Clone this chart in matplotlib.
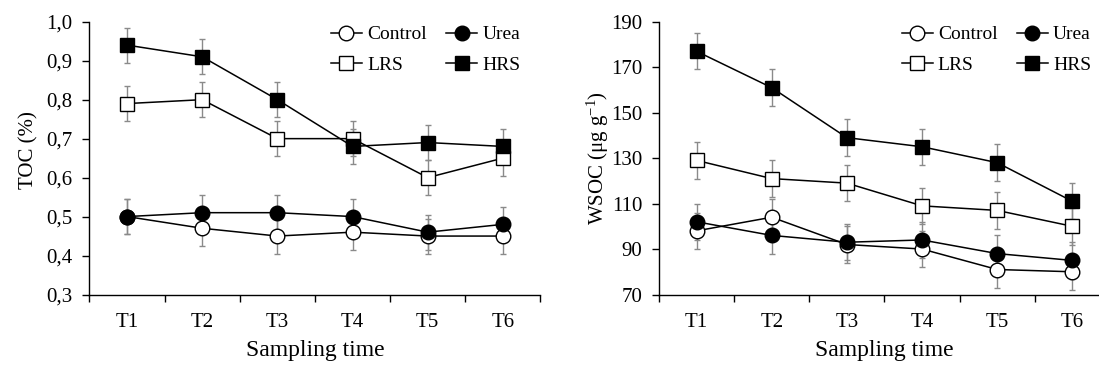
import matplotlib
matplotlib.use('Agg')
import matplotlib.pyplot as plt
from matplotlib.ticker import FuncFormatter, FixedLocator
import numpy as np

# data
TIMES = ['T1', 'T2', 'T3', 'T4', 'T5', 'T6']
SERIES = ['Control', 'Urea', 'LRS', 'HRS']

toc_control = [0.50, 0.47, 0.45, 0.46, 0.45, 0.45]
toc_urea = [0.50, 0.51, 0.51, 0.50, 0.46, 0.48]
toc_lrs = [0.79, 0.80, 0.70, 0.70, 0.60, 0.65]
toc_hrs = [0.94, 0.91, 0.80, 0.68, 0.69, 0.68]
toc_err = [0.045, 0.045, 0.045, 0.045, 0.045, 0.045]

wsoc_control = [98, 104, 92, 90, 81, 80]
wsoc_urea = [102, 96, 93, 94, 88, 85]
wsoc_lrs = [129, 121, 119, 109, 107, 100]
wsoc_hrs = [177, 161, 139, 135, 128, 111]
wsoc_err = [8, 8, 8, 8, 8, 8]

plt.rcParams['font.family'] = ['Liberation Serif', 'DejaVu Serif']
plt.rcParams['mathtext.fontset'] = 'custom'
plt.rcParams['mathtext.rm'] = 'Liberation Serif'
plt.rcParams['mathtext.it'] = 'Liberation Serif:italic'

STYLE = {
    'Control': dict(marker='o', mfc='white'),
    'Urea': dict(marker='o', mfc='black'),
    'LRS': dict(marker='s', mfc='white'),
    'HRS': dict(marker='s', mfc='black'),
}

fig = plt.figure(figsize=(10.99, 3.67), dpi=100)


def draw_panel(ax, values, err, ylim, yticks, ylabel, fmt, label_xy):
    x = np.arange(1, len(TIMES) + 1)
    handles = {}
    for name, vals in zip(SERIES, values):
        ax.errorbar(x, vals, yerr=err, fmt='none', ecolor='#8a8a8a',
                    elinewidth=1.0, capsize=2.5, capthick=1.0, zorder=2)
        h, = ax.plot(x, vals, color='black', lw=1.1, ms=10.5,
                     mec='black', mew=1.0, zorder=3, label=name, **STYLE[name])
        handles[name] = h
    ax.set_xlim(0.5, 6.5)
    ax.set_ylim(*ylim)
    ax.set_yticks(yticks)
    ax.yaxis.set_major_formatter(FuncFormatter(fmt))
    ax.set_xticks(x)
    ax.set_xticklabels(TIMES)
    # ticks sit on the category boundaries, labels in the middle
    ax.xaxis.set_minor_locator(FixedLocator(np.arange(0.5, 7.0, 1.0)))
    ax.tick_params(axis='x', which='major', length=0, pad=13, labelsize=15)
    ax.tick_params(axis='x', which='minor', length=5, width=1.0, direction='out')
    ax.tick_params(axis='y', length=5, width=1.0, direction='out', labelsize=15, pad=7)
    for s in ['top', 'right']:
        ax.spines[s].set_visible(False)
    for s in ['left', 'bottom']:
        ax.spines[s].set_linewidth(1.0)
    ax.set_xlabel('Sampling time', fontsize=17, labelpad=6)
    ax.set_ylabel(ylabel, fontsize=15)
    ax.yaxis.set_label_coords(*label_xy)
    order = ['Control', 'LRS', 'Urea', 'HRS']
    return [handles[n] for n in order], order


LEG = dict(ncol=2, frameon=False, fontsize=14, loc='upper right',
           handlelength=1.6, handletextpad=0.26, columnspacing=1.0,
           labelspacing=0.65, numpoints=1, borderaxespad=0)

ax1 = fig.add_axes([0.0814, 0.1975, 0.4104, 0.7433])
h1, l1 = draw_panel(ax1, [toc_control, toc_urea, toc_lrs, toc_hrs], toc_err,
                    (0.3, 1.0), np.arange(0.3, 1.01, 0.1), 'TOC (%)',
                    lambda v, p: f'{v:.1f}'.replace('.', ','), (-0.112, 0.53))
ax1.legend(h1, l1, bbox_to_anchor=(0.4805, 0.951),
           bbox_transform=fig.transFigure, **LEG)

ax2 = fig.add_axes([0.5996, 0.1975, 0.4104, 0.7433])
h2, l2 = draw_panel(ax2, [wsoc_control, wsoc_urea, wsoc_lrs, wsoc_hrs], wsoc_err,
                    (70, 190), np.arange(70, 191, 20), r'WSOC (μg g$^{-1}$)',
                    lambda v, p: f'{v:.0f}', (-0.107, 0.5))
ax2.legend(h2, l2, bbox_to_anchor=(1.0, 0.951),
           bbox_transform=fig.transFigure, **LEG)

fig.savefig('out.png', dpi=100)
